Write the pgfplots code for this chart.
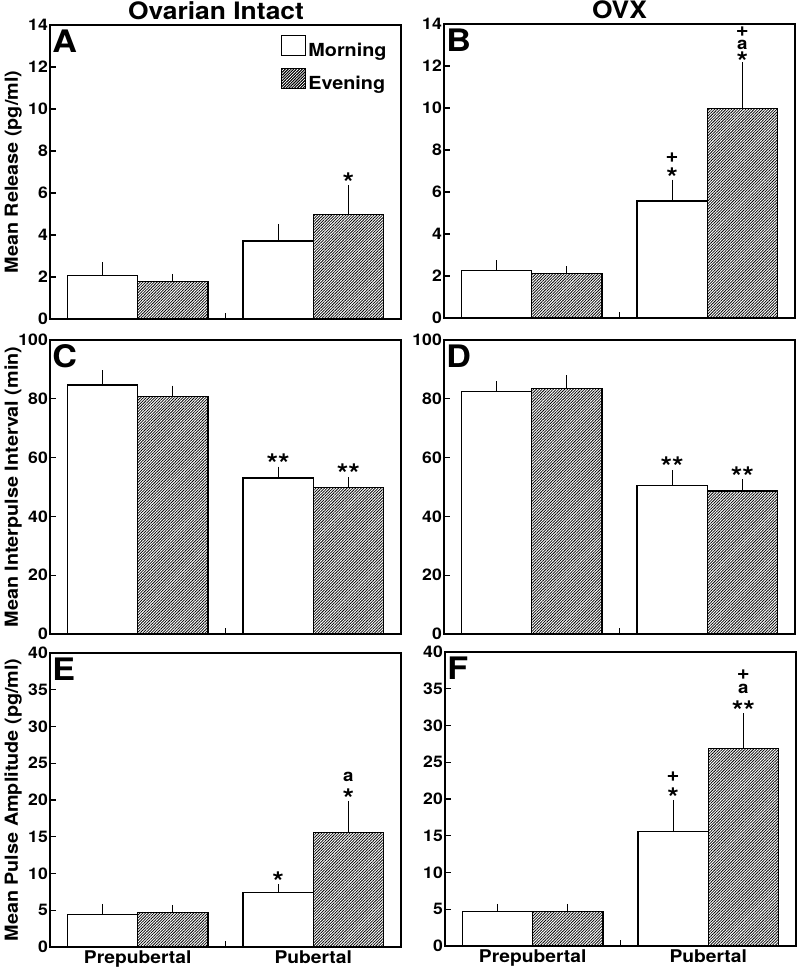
\documentclass[border=0pt]{standalone}
\usepackage{fontspec}
\setmainfont{TeX Gyre Heros}[FakeStretch=1.1]
\usepackage{pgfplots}
\pgfplotsset{compat=1.18}
\usetikzlibrary{patterns.meta}

\newcommand{\st}{\bfseries\fontsize{27}{27}\selectfont\raisebox{-0.557em}[0.17em][0.17em]{*}}
\newcommand{\dst}{\bfseries\fontsize{27}{27}\selectfont\raisebox{-0.557em}[0.17em][0.17em]{**}}
\newcommand{\pl}{\bfseries\fontsize{20}{20}\selectfont\raisebox{-0.253em}[0.26em][0.26em]{+}}
\newcommand{\la}{\bfseries\fontsize{17}{17}\selectfont\raisebox{-0.266em}[0.28em][0.28em]{a}}
\newcommand{\stk}[1]{\vbox{\offinterlineskip\halign{\hfil##\hfil\cr#1\crcr}}}
\newcommand{\sig}[4]{\node[anchor=base,inner sep=0pt,yshift=#3] at (axis cs:#1,#2) {#4};}
\newcommand{\panel}[1]{\node[anchor=base west,inner sep=0pt,font=\bfseries\fontsize{31}{31}\selectfont] at (axis description cs:0.006,0.905) {#1};}

\pgfplotsset{
  panel/.style={
    scale only axis, width=351pt, height=294pt,
    xmin=0.5, xmax=2.5, ymin=0,
    axis line style={line width=1.8pt},
    tick style={line width=1.2pt, black},
    major tick length=6pt,
    tick align=inside,
    xtick pos=left, ytick pos=left,
    xtick={1.5}, xticklabels={},
    /pgf/number format/assume math mode=true,
    yticklabel style={font=\bfseries\fontsize{16}{16}\selectfont, inner sep=2pt},
    ylabel style={font=\bfseries\fontsize{18}{18}\selectfont, at={(axis description cs:-0.08,0.5)}, anchor=south, inner sep=0pt},
    title style={font=\bfseries\fontsize{24}{24}\selectfont, anchor=base, yshift=-1pt},
    clip=false,
  },
  cats/.style={
    extra x ticks={1,2}, extra x tick labels={Prepubertal,Pubertal},
    extra x tick style={major tick length=0pt, tick style={draw=none},
      xticklabel style={font=\bfseries\fontsize{17.5}{17.5}\selectfont, inner sep=4pt}},
  },
  mbar/.style={ybar, bar width=0.4, bar shift=0pt, fill=white, draw=black, line width=1.3pt,
    legend image code/.code={\draw[fill=white,line width=1.2pt] (0pt,-5pt) rectangle (24pt,15pt);},
    error bars/.cd, y dir=plus, y explicit,
    error bar style={line width=1.2pt, black},
    error mark options={line width=1.2pt, mark size=2.5pt, black}},
  ebar/.style={ybar, bar width=0.4, bar shift=0pt, fill=white, draw=black, line width=1.3pt,
    postaction={pattern={Lines[angle=45,distance=2pt,line width=0.75pt]}, pattern color=black},
    legend image code/.code={\draw[fill=white,line width=1.2pt,postaction={pattern={Lines[angle=45,distance=2pt,line width=0.75pt]}}] (0pt,-5pt) rectangle (24pt,15pt);},
    error bars/.cd, y dir=plus, y explicit,
    error bar style={line width=1.2pt, black},
    error mark options={line width=1.2pt, mark size=2.5pt, black}},
}

\begin{document}
\begin{tikzpicture}
\useasboundingbox (0pt,0pt) rectangle (800pt,971pt);

% A
\begin{axis}[panel, at={(50pt,652pt)}, anchor=south west,
  ymax=14, ytick={0,2,...,14},
  title={Ovarian Intact}, title style={at={(axis description cs:0.473,1)}},
  ylabel={Mean Release (pg/ml)},
  legend style={draw=none, fill=none, at={(axis description cs:0.965,0.967)}, anchor=north east,
    font=\bfseries\fontsize{18}{18}\selectfont, row sep=8pt, inner sep=0pt},
  legend cell align=left]
\addplot[mbar] coordinates {(0.8,2.06) +- (0,0.52) (1.8,3.71) +- (0,0.70)};
\addlegendentry{Morning}
\addplot[ebar] coordinates {(1.2,1.79) +- (0,0.24) (2.2,4.99) +- (0,1.27)};
\addlegendentry{Evening}
\panel{A}
\sig{2.2}{6.26}{10pt}{\st}
\end{axis}

% B
\begin{axis}[panel, at={(444pt,653pt)}, anchor=south west,
  ymax=14, ytick={0,2,...,14},
  title={OVX}, title style={at={(axis description cs:0.5,1)}}]
\addplot[mbar] coordinates {(0.8,2.26) +- (0,0.36) (1.8,5.57) +- (0,0.90)};
\addplot[ebar] coordinates {(1.2,2.12) +- (0,0.23) (2.2,9.97) +- (0,2.09)};
\panel{B}
\sig{1.8}{6.47}{10pt}{\stk{\pl\cr\noalign{\vskip5.2pt}\st}}
\sig{2.2}{12.06}{8pt}{\stk{\pl\cr\noalign{\vskip3pt}\la\cr\noalign{\vskip2.6pt}\st}}
\end{axis}

% C
\begin{axis}[panel, at={(50pt,337pt)}, anchor=south west,
  ymax=100, ytick={0,20,...,100},
  ylabel={Mean Interpulse Interval (min)}]
\addplot[mbar] coordinates {(0.8,84.7) +- (0,4.2) (1.8,53.1) +- (0,3.0)};
\addplot[ebar] coordinates {(1.2,80.7) +- (0,2.9) (2.2,49.8) +- (0,2.6)};
\panel{C}
\sig{1.8}{56.1}{11pt}{\dst}
\sig{2.2}{52.4}{11pt}{\dst}
\end{axis}

% D
\begin{axis}[panel, at={(444pt,337pt)}, anchor=south west,
  ymax=100, ytick={0,20,...,100}]
\addplot[mbar] coordinates {(0.8,82.5) +- (0,2.7) (1.8,50.5) +- (0,4.3)};
\addplot[ebar] coordinates {(1.2,83.4) +- (0,3.8) (2.2,48.6) +- (0,3.1)};
\panel{D}
\sig{1.8}{54.8}{11pt}{\dst}
\sig{2.2}{51.7}{11pt}{\dst}
\end{axis}

% E
\begin{axis}[panel, cats, at={(50pt,24pt)}, anchor=south west,
  ymax=40, ytick={0,5,...,40},
  ylabel={Mean Pulse Amplitude (pg/ml)}]
\addplot[mbar] coordinates {(0.8,4.44) +- (0,1.09) (1.8,7.39) +- (0,0.81)};
\addplot[ebar] coordinates {(1.2,4.72) +- (0,0.68) (2.2,15.56) +- (0,3.99)};
\panel{E}
\sig{1.8}{8.2}{10pt}{\st}
\sig{2.2}{19.55}{10pt}{\stk{\la\cr\noalign{\vskip6.6pt}\st}}
\end{axis}

% F
\begin{axis}[panel, cats, at={(445pt,25pt)}, anchor=south west,
  ymax=40, ytick={0,5,...,40}]
\addplot[mbar] coordinates {(0.8,4.68) +- (0,0.72) (1.8,15.55) +- (0,4.0)};
\addplot[ebar] coordinates {(1.2,4.68) +- (0,0.72) (2.2,26.9) +- (0,4.4)};
\panel{F}
\sig{1.8}{19.55}{10pt}{\stk{\pl\cr\noalign{\vskip6.2pt}\st}}
\sig{2.2}{31.3}{10pt}{\stk{\pl\cr\noalign{\vskip5pt}\la\cr\noalign{\vskip7.6pt}\dst}}
\end{axis}
\end{tikzpicture}
\end{document}
